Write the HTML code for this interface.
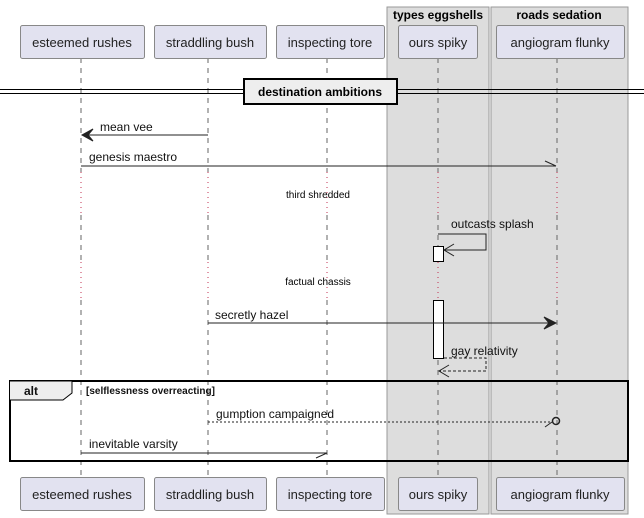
<!DOCTYPE html>
<html><head><meta charset="utf-8"><style>
body{margin:0;background:#fff}
svg{display:block;font-family:"Liberation Sans",sans-serif}
</style></head><body>
<svg width="644" height="518" viewBox="0 0 644 518">
<g>
<rect x="387" y="7" width="102" height="507" fill="#ddd" stroke="#999" stroke-width="1"/>
<text x="438" y="19" font-size="12" font-weight="bold" text-anchor="middle">types eggshells</text></g>
<g>
<rect x="491" y="7" width="137" height="507" fill="#ddd" stroke="#999" stroke-width="1"/>
<text x="559" y="19" font-size="12" font-weight="bold" text-anchor="middle">roads sedation</text></g>
<g stroke="#666" stroke-dasharray="5,5">
<path d="M81,58V172M81,215V262M81,300V477"/>
<path d="M208,58V172M208,215V262M208,300V477"/>
<path d="M327,58V172M327,215V262M327,300V477"/>
<path d="M438,58V172M438,215V262M438,300V477"/>
<path d="M557,58V172M557,215V262M557,300V477"/></g>
<g stroke="#c03050" stroke-dasharray="1,4">
<line x1="81" y1="172" x2="81" y2="215"/><line x1="208" y1="172" x2="208" y2="215"/><line x1="327" y1="172" x2="327" y2="215"/><line x1="438" y1="172" x2="438" y2="215"/><line x1="557" y1="172" x2="557" y2="215"/>
<line x1="81" y1="262" x2="81" y2="300"/><line x1="208" y1="262" x2="208" y2="300"/><line x1="327" y1="262" x2="327" y2="300"/><line x1="438" y1="262" x2="438" y2="300"/><line x1="557" y1="262" x2="557" y2="300"/></g>
<text x="318" y="198" font-size="10" text-anchor="middle">third shredded</text>
<text x="318" y="285" font-size="10" text-anchor="middle">factual chassis</text>
<g font-size="13" fill="#222">
<rect x="20.5" y="25.5" width="124" height="33" rx="2" fill="#e2e2f0" stroke="#888"/><text x="82" y="47" text-anchor="middle">esteemed rushes</text>
<rect x="154.5" y="25.5" width="112" height="33" rx="2" fill="#e2e2f0" stroke="#888"/><text x="210" y="47" text-anchor="middle">straddling bush</text>
<rect x="276.5" y="25.5" width="108" height="33" rx="2" fill="#e2e2f0" stroke="#888"/><text x="330" y="47" text-anchor="middle">inspecting tore</text>
<rect x="398.5" y="25.5" width="79" height="33" rx="2" fill="#e2e2f0" stroke="#888"/><text x="438" y="47" text-anchor="middle">ours spiky</text>
<rect x="496.5" y="25.5" width="128" height="33" rx="2" fill="#e2e2f0" stroke="#888"/><text x="560" y="47" text-anchor="middle">angiogram flunky</text></g>
<g font-size="13" fill="#222">
<rect x="20.5" y="477.5" width="124" height="33" rx="2" fill="#e2e2f0" stroke="#888"/><text x="82" y="499" text-anchor="middle">esteemed rushes</text>
<rect x="154.5" y="477.5" width="112" height="33" rx="2" fill="#e2e2f0" stroke="#888"/><text x="210" y="499" text-anchor="middle">straddling bush</text>
<rect x="276.5" y="477.5" width="108" height="33" rx="2" fill="#e2e2f0" stroke="#888"/><text x="330" y="499" text-anchor="middle">inspecting tore</text>
<rect x="398.5" y="477.5" width="79" height="33" rx="2" fill="#e2e2f0" stroke="#888"/><text x="438" y="499" text-anchor="middle">ours spiky</text>
<rect x="496.5" y="477.5" width="128" height="33" rx="2" fill="#e2e2f0" stroke="#888"/><text x="560" y="499" text-anchor="middle">angiogram flunky</text></g>
<g>
<line x1="0" y1="89.5" x2="644" y2="89.5" stroke="#000"/><line x1="0" y1="93.5" x2="644" y2="93.5" stroke="#000"/>
<rect x="244" y="79" width="153" height="25" fill="#eee" stroke="#000" stroke-width="2"/>
<text x="320" y="96" font-size="12" font-weight="bold" text-anchor="middle">destination ambitions</text></g>
<g>
<rect x="433.5" y="246.5" width="10" height="15" fill="#fff" stroke="#000"/>
<rect x="433.5" y="300.5" width="10" height="58" fill="#fff" stroke="#000"/></g>
<g fill="none" stroke="#222" font-size="12">
<g><line x1="208" y1="135" x2="82" y2="135"/><path d="M93,129 L82,135 L93,141 L88,135 Z" fill="#222"/><text x="100" y="131" fill="#111" stroke="none">mean vee</text></g>
<g><line x1="81" y1="166" x2="556" y2="166"/><line x1="545" y1="161" x2="556" y2="166"/><text x="89" y="161" fill="#111" stroke="none">genesis maestro</text></g>
<g><polyline points="438,234 486,234 486,250 444,250"/><polyline points="454,244 444,250 454,256"/><text x="451" y="228" fill="#111" stroke="none">outcasts splash</text></g>
<g><line x1="208" y1="323" x2="556" y2="323"/><path d="M544,317 L556,323 L544,329 L549,323 Z" fill="#222"/><text x="215" y="319" fill="#111" stroke="none">secretly hazel</text></g>
<g><polyline points="444,358 486,358 486,371 439,371" stroke-dasharray="3,2"/><polyline points="449,365 439,371 449,377"/><text x="451" y="355" fill="#111" stroke="none">gay relativity</text></g>
<g><rect x="10" y="381" width="618" height="80" stroke="#000" stroke-width="2"/>
<path d="M10,381 L72,381 L72,393 L63,400 L10,400" fill="#eee" stroke="#000"/>
<text x="24" y="395" fill="#111" stroke="none" font-weight="bold" font-size="12">alt</text>
<text x="86" y="394" fill="#111" stroke="none" font-weight="bold" font-size="10">[selflessness overreacting]</text></g>
<g><line x1="208" y1="422" x2="552" y2="422" stroke-dasharray="2,2"/><line x1="545" y1="427" x2="552" y2="422"/><circle cx="556" cy="421" r="3.5" stroke-width="1.5"/><text x="216" y="418" fill="#111" stroke="none">gumption campaigned</text></g>
<g><line x1="81" y1="453" x2="327" y2="453"/><line x1="316" y1="458" x2="327" y2="453"/><text x="89" y="448" fill="#111" stroke="none">inevitable varsity</text></g>
</g>
</svg>
</body></html>
